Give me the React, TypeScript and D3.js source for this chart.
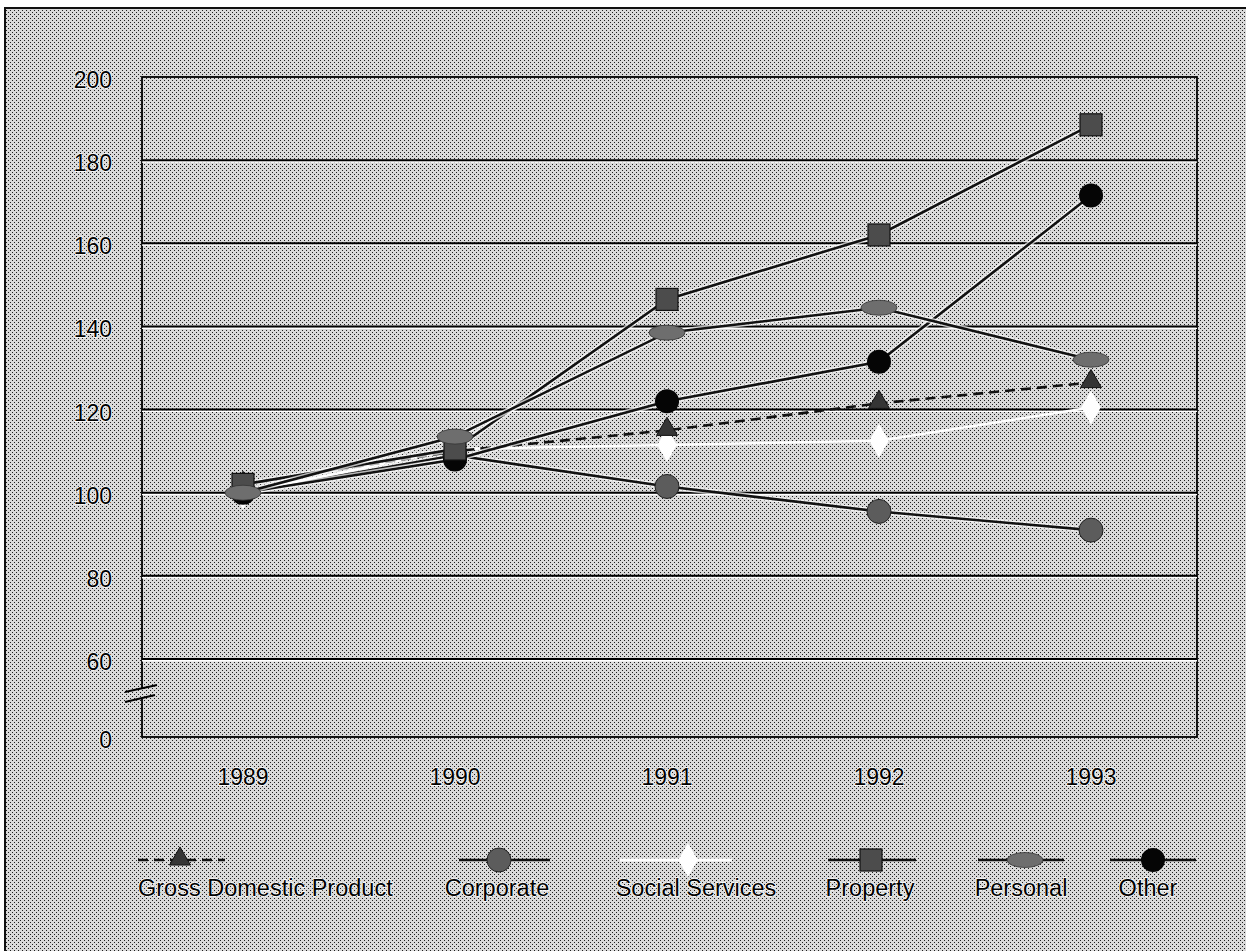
import * as d3 from "d3";
import React from "react";

const W = 1246;
const H = 951;

// ---- data ----
const years = ["1989", "1990", "1991", "1992", "1993"];
const gdp = [102, 110, 115, 121.5, 126.5];
const corporate = [100, 109, 101.5, 95.5, 91];
const socialServices = [100, 110.5, 111.5, 112.5, 120.5];
const property = [102, 110.5, 146.5, 162, 188.5];
const personal = [100, 113.5, 138.5, 144.5, 132];
const other = [100, 108, 122, 131.5, 171.5];
const yTicks = [0, 60, 80, 100, 120, 140, 160, 180, 200];
const legendLabels = ["Gross Domestic Product", "Corporate", "Social Services", "Property", "Personal", "Other"];

// ---- layout ----
const plot = { left: 142, right: 1197, top: 77, bottom: 737 };
const FONT = "'Liberation Sans', Arial, Helvetica, sans-serif";

const x = d3.scalePoint<string>().domain(years).range([243, 1091]);
// broken axis: 0 sits one step below 60
const y = d3.scaleLinear().domain([0, 60, 200]).range([plot.bottom, 659, plot.top]);

type Kind = "triangle" | "circle" | "diamond" | "square" | "ellipse" | "dot";

interface Series {
  name: string;
  values: number[];
  kind: Kind;
  fill: string;
  stroke: string;
  dash?: string;
}

// drawing order (back to front)
const series: Series[] = [
  { name: legendLabels[1], values: corporate, kind: "circle", fill: "#5c5c5c", stroke: "#111" },
  { name: legendLabels[2], values: socialServices, kind: "diamond", fill: "#ffffff", stroke: "#ffffff" },
  { name: legendLabels[0], values: gdp, kind: "triangle", fill: "#353535", stroke: "#111", dash: "10,6" },
  { name: legendLabels[5], values: other, kind: "dot", fill: "#050505", stroke: "#111" },
  { name: legendLabels[3], values: property, kind: "square", fill: "#4c4c4c", stroke: "#111" },
  { name: legendLabels[4], values: personal, kind: "ellipse", fill: "#6e6e6e", stroke: "#111" },
];

// legend layout (marker centre, line span, label anchor)
const legendLayout = [
  { cx: 180, x1: 138, x2: 225, lx: 138, anchor: "start" },
  { cx: 499, x1: 459, x2: 550, lx: 497, anchor: "middle" },
  { cx: 688, x1: 620, x2: 732, lx: 696, anchor: "middle" },
  { cx: 871, x1: 828, x2: 916, lx: 870, anchor: "middle" },
  { cx: 1025, x1: 978, x2: 1064, lx: 1021, anchor: "middle" },
  { cx: 1153, x1: 1110, x2: 1196, lx: 1148, anchor: "middle" },
];

const triPath = d3.symbol(d3.symbolTriangle, 190)()!;
const diaPath = d3.symbol(d3.symbolDiamond, 330)()!;

function Marker({ kind, fill, cx, cy }: { kind: Kind; fill: string; cx: number; cy: number }) {
  const t = `translate(${cx},${cy})`;
  switch (kind) {
    case "triangle":
      return <path d={triPath} transform={`translate(${cx},${cy - 1})`} fill={fill} stroke="#111" strokeWidth={1} />;
    case "diamond":
      return <path d={diaPath} transform={t} fill={fill} />;
    case "circle":
      return <circle cx={cx} cy={cy} r={12} fill={fill} stroke="#222" strokeWidth={1} />;
    case "dot":
      return <circle cx={cx} cy={cy} r={12} fill={fill} />;
    case "square":
      return <rect x={cx - 11} y={cy - 11} width={22} height={22} fill={fill} stroke="#111" strokeWidth={1.2} />;
    case "ellipse":
      return <ellipse cx={cx} cy={cy} rx={18} ry={7.5} fill={fill} stroke="#333" strokeWidth={0.8} />;
  }
}

export default function App() {
  const line = d3
    .line<number>()
    .x((_, i) => x(years[i])!)
    .y((d) => y(d));

  const breakMid = (y(0) + y(60)) / 2 - 5;

  const textStyle = {
    fontFamily: FONT,
    fill: "#000",
    stroke: "#fff",
    strokeWidth: 1.5,
    paintOrder: "stroke" as const,
  };

  return (
    <svg width={W} height={H} style={{ position: "absolute", left: 0, top: 0, display: "block" }}>
      <defs>
        <pattern id="stipple" width={4} height={4} patternUnits="userSpaceOnUse">
          <rect width={4} height={4} fill="#d9d9d9" />
          <rect x={0} y={0} width={1} height={1} fill="#1e1e1e" />
          <rect x={2} y={2} width={1} height={1} fill="#1e1e1e" />
        </pattern>
      </defs>

      {/* background + frame */}
      <rect x={0} y={0} width={W} height={H} fill="#fff" />
      <rect x={5} y={8} width={W + 20} height={H + 20} fill="url(#stipple)" stroke="#111" strokeWidth={2} />

      {/* plot box */}
      <rect
        x={plot.left}
        y={plot.top}
        width={plot.right - plot.left}
        height={plot.bottom - plot.top}
        fill="none"
        stroke="#000"
        strokeWidth={1.8}
      />
      {yTicks
        .filter((t) => t > 0 && t < 200)
        .map((t) => (
          <g key={t}>
            <line x1={plot.left} x2={plot.right} y1={y(t) + 1.8} y2={y(t) + 1.8} stroke="#fff" strokeWidth={1.5} />
            <line x1={plot.left} x2={plot.right} y1={y(t)} y2={y(t)} stroke="#000" strokeWidth={2} />
          </g>
        ))}

      {/* axis break */}
      <rect x={plot.left - 3} y={breakMid - 5} width={6} height={11} fill="url(#stipple)" />
      <line x1={125} y1={breakMid - 1} x2={157} y2={breakMid - 8} stroke="#000" strokeWidth={1.8} />
      <line x1={125} y1={breakMid + 9} x2={155} y2={breakMid + 2} stroke="#000" strokeWidth={1.8} />

      {/* y tick labels */}
      {yTicks.map((t) => (
        <text key={t} x={112} y={y(t) + 11} textAnchor="end" fontSize={23} style={textStyle}>
          {t}
        </text>
      ))}

      {/* x labels */}
      {years.map((yr) => (
        <text key={yr} x={x(yr)!} y={785} textAnchor="middle" fontSize={23} style={textStyle}>
          {yr}
        </text>
      ))}

      {/* series lines */}
      {series.map((s) => (
        <g key={s.name}>
          {s.kind !== "diamond" && !s.dash && (
            <path d={line(s.values)!} fill="none" stroke="#fff" strokeOpacity={0.7} strokeWidth={5.5} />
          )}
          <path
            d={line(s.values)!}
            fill="none"
            stroke={s.stroke}
            strokeWidth={s.kind === "diamond" ? 2.5 : 2.6}
            strokeDasharray={s.dash}
          />
        </g>
      ))}

      {/* markers */}
      {series.map((s) => (
        <g key={s.name + "-m"}>
          {s.values.map((v, i) => (
            <Marker key={i} kind={s.kind} fill={s.fill} cx={x(years[i])!} cy={y(v)} />
          ))}
        </g>
      ))}

      {/* legend */}
      {legendLabels.map((label, i) => {
        const s = series.find((d) => d.name === label)!;
        const L = legendLayout[i];
        const my = 860;
        return (
          <g key={label}>
            <line
              x1={L.x1}
              x2={L.x2}
              y1={my}
              y2={my}
              stroke={s.stroke}
              strokeWidth={s.kind === "diamond" ? 3 : 2.6}
              strokeDasharray={s.dash}
            />
            <Marker kind={s.kind} fill={s.fill} cx={L.cx} cy={my} />
            <text
              x={L.lx}
              y={896}
              textAnchor={L.anchor as "start" | "middle"}
              fontSize={23.5}
              style={textStyle}
            >
              {label}
            </text>
          </g>
        );
      })}
    </svg>
  );
}
